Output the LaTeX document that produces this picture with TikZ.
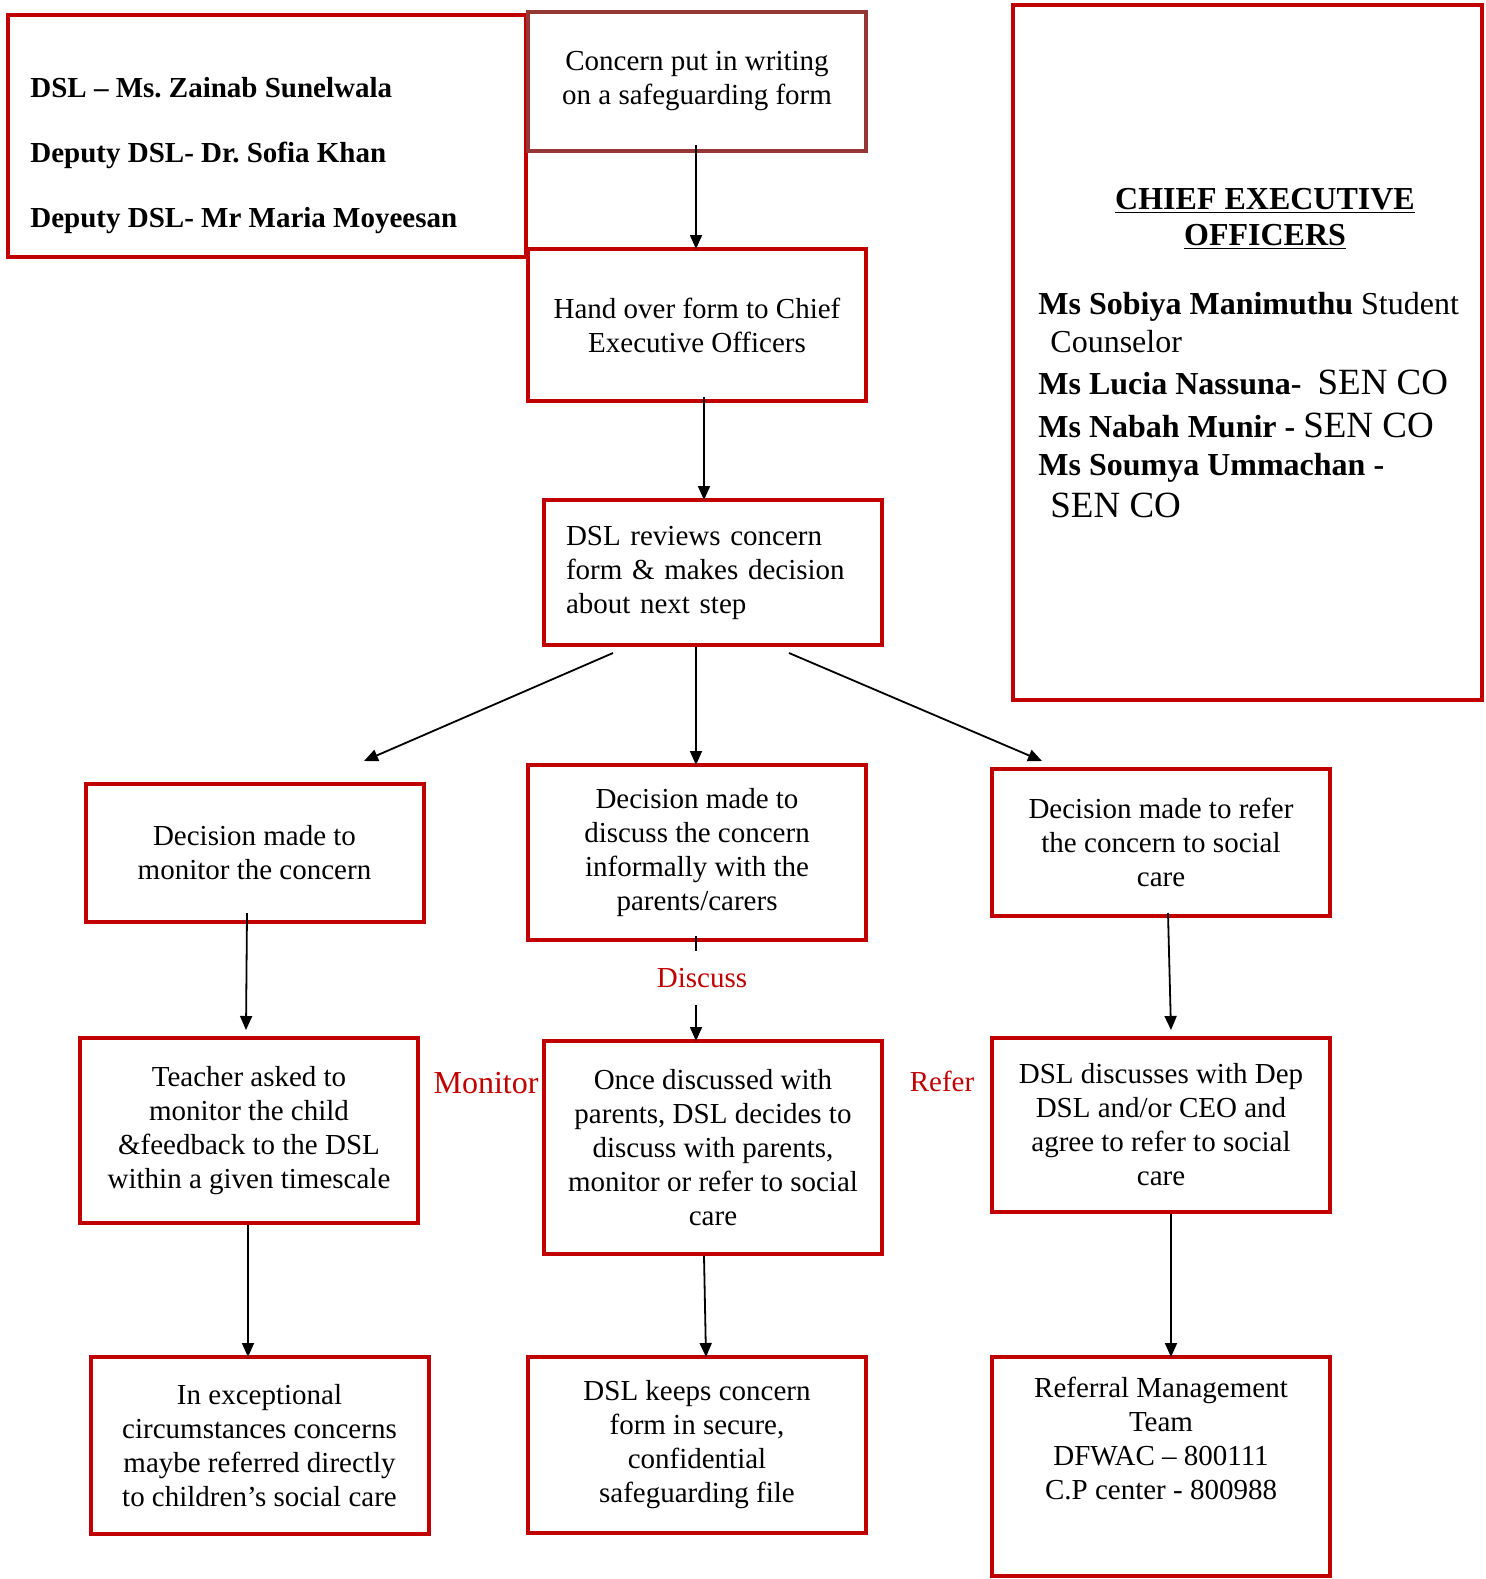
\documentclass[tikz,border=0pt]{standalone}
\usepackage{fontspec}
\setmainfont{Liberation Serif}
\usetikzlibrary{arrows.meta,calc}
\definecolor{boxred}{RGB}{192,0,0}
\definecolor{formred}{RGB}{149,55,53}

\begin{document}
\begin{tikzpicture}[
    x=0.5pt, y=-0.5pt,
    font=\fontsize{14.5}{17}\selectfont,
    arrow/.style={
        -{Triangle[length=7pt,width=6pt]},
        draw=black,
        line width=0.9pt
    },
    box/.style={
        rectangle,
        draw=boxred,
        line width=2pt,
        align=center,
        minimum width=169pt,
        inner sep=4pt
    },
    formbox/.style={
        box,
        draw=formred
    },
    redlabel/.style={
        text=boxred,
        inner sep=1pt
    },
    ceoname/.style={
        anchor=base west,
        inner sep=0pt,
        font=\fontsize{16}{18}\selectfont
    }
]
\useasboundingbox (0,0) rectangle (1486,1579);

\node[box, minimum width=259pt, minimum height=121pt] (dslbox) at (267,136) {};
\node[anchor=west, align=left, inner sep=0pt, font=\bfseries\fontsize{14.5}{32.5}\selectfont] (dslnames) at (30,156) {DSL – Ms.\ Zainab Sunelwala\\Deputy DSL- Dr.\ Sofia Khan\\Deputy DSL- Mr Maria Moyeesan};

\node[formbox, minimum height=69.5pt] (concern) at (697,81.5) {Concern put in writing\\on a safeguarding form};
\node[box, minimum height=76pt] (handover) at (697,325) {Hand over form to Chief\\Executive Officers};
\node[box, align=left, text width=147pt, minimum height=72.5pt] (review) at (713,572.5) {DSL reviews concern\\form \& makes decision\\about next step};

\node[box, minimum width=234.5pt, minimum height=347.5pt] (ceo) at (1247.5,352.5) {};
\node[align=center, font=\bfseries\fontsize{16}{18}\selectfont] (ceotitle) at (1265,219) {\underline{CHIEF EXECUTIVE}\\\underline{OFFICERS}};
\node[ceoname] (sobiya) at (1038,314) {\textbf{Ms Sobiya Manimuthu} Student};
\node[ceoname] (counselor) at (1050,352) {Counselor};
\node[ceoname] (lucia) at (1038,394) {\textbf{Ms Lucia Nassuna-}\hspace{8pt}{\fontsize{18.5}{20}\selectfont SEN CO}};
\node[ceoname] (nabah) at (1038,437) {\textbf{Ms Nabah Munir -} {\fontsize{18.5}{20}\selectfont SEN CO}};
\node[ceoname] (soumya) at (1038,475) {\textbf{Ms Soumya Ummachan -}};
\node[ceoname, font=\fontsize{18.5}{20}\selectfont] (soumyarole) at (1050,517) {SEN CO};

\node[box, minimum height=69pt] (monitor) at (254.5,853) {Decision made to\\monitor the concern};
\node[box, minimum height=87.5pt] (discuss) at (697,852.5) {Decision made to\\discuss the concern\\informally with the\\parents/carers};
\node[box, minimum height=73.5pt] (refer) at (1161,842.5) {Decision made to refer\\the concern to social\\care};

\node[box, minimum height=92.5pt] (teacher) at (249,1130.5) {Teacher asked to\\monitor the child\\\&feedback to the DSL\\within a given timescale};
\node[box, minimum height=106.5pt] (once) at (713,1147.5) {Once discussed with\\parents, DSL decides to\\discuss with parents,\\monitor or refer to social\\care};
\node[box, minimum height=87pt] (depdsl) at (1161,1125) {DSL discusses with Dep\\DSL and/or CEO and\\agree to refer to social\\care};

\node[box, minimum height=88.5pt] (exceptional) at (259.5,1445.5) {In exceptional\\circumstances concerns\\maybe referred directly\\to children’s social care};
\node[box, minimum height=88pt] (keeps) at (697,1445) {DSL keeps concern\\form in secure,\\confidential\\safeguarding file};
\node[box, minimum height=109.5pt] (referral) at (1161,1466.5) {};
\node[align=center] (referraltext) at (1161,1438.5) {Referral Management\\Team\\DFWAC – 800111\\C.P center - 800988};

\node[redlabel, font=\fontsize{16}{18}\selectfont] (monitorlabel) at (486,1083) {Monitor};
\node[redlabel] (referlabel) at (942,1081) {Refer};

\draw[arrow] ($(concern.south)+(-1,-8)$) -- ($(handover.north)+(-1,2)$);
\draw[arrow] ($(handover.south)+(7,-6)$) -- ($(review.north)+(-9,2)$);

\draw[arrow] ($(review.south)+(-100,6)$) -- ($(monitor.north)+(109.5,-21)$);
\draw[arrow] ($(review.south)+(-17,0)$) -- ($(discuss.north)+(-1,2)$);
\draw[arrow] ($(review.south)+(76,6)$) -- ($(refer.north)+(-119,-6)$);

\draw[arrow] ($(monitor.south)+(-7.5,-11)$) -- ($(teacher.north)+(-3,-6)$);
\draw[arrow] ($(discuss.south)+(-1,-6)$) -- node[pos=0.4, redlabel, fill=white, inner ysep=8.5pt, xshift=3pt] (discusslabel) {Discuss} ($(once.north)+(-17,2)$);
\draw[arrow] ($(refer.south)+(7,-5)$) -- ($(depdsl.north)+(10,-6)$);

\draw[arrow] ($(teacher.south)+(-1,0)$) -- ($(exceptional.north)+(-11.5,2)$);
\draw[arrow] ($(once.south)+(-9,0)$) -- ($(keeps.north)+(9,2)$);
\draw[arrow] ($(depdsl.south)+(10,0)$) -- ($(referral.north)+(10,2)$);

\end{tikzpicture}
\end{document}
